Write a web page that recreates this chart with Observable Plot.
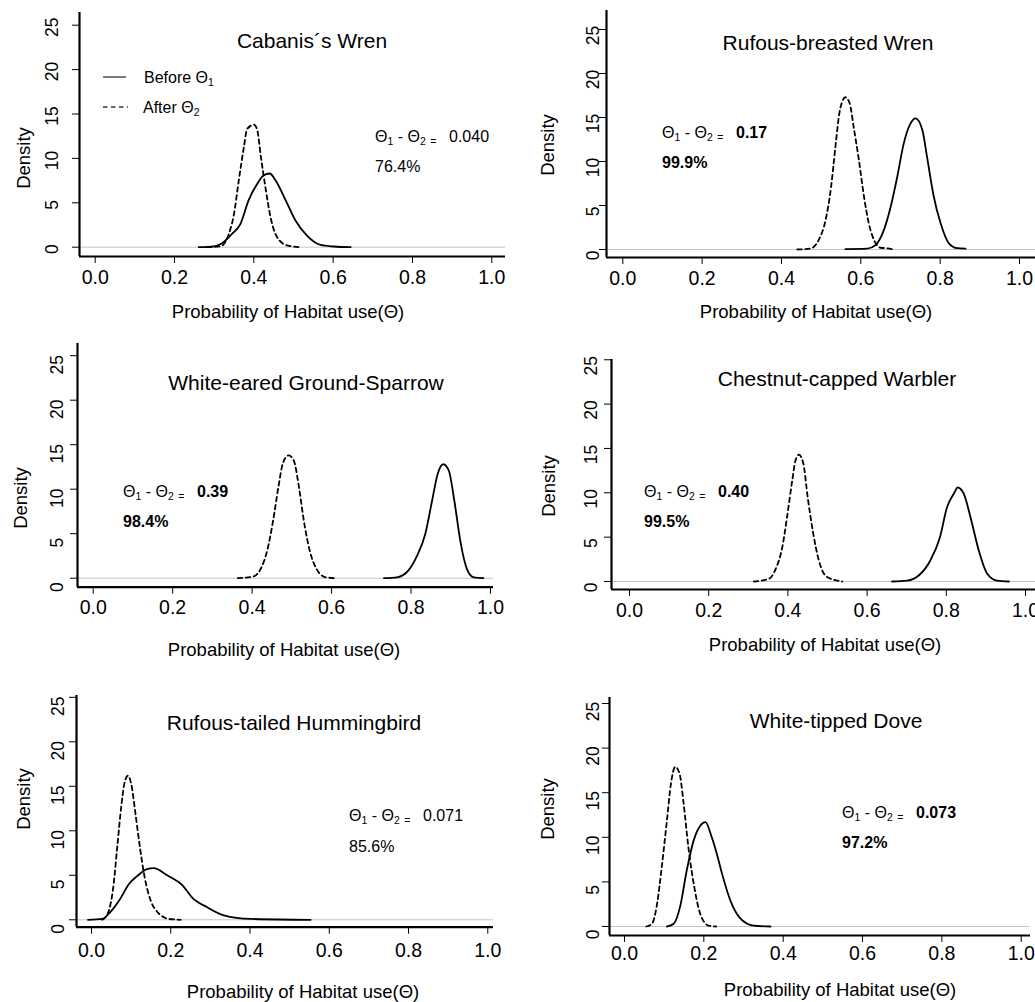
<!DOCTYPE html>
<html><head><meta charset="utf-8">
<script src="https://cdn.jsdelivr.net/npm/d3@7"></script>
<script src="https://cdn.jsdelivr.net/npm/@observablehq/plot@0.6"></script>
<style>
body{margin:0;background:#fff;font-family:"Liberation Sans",Arial,Helvetica,sans-serif;}
#root{position:relative;width:1035px;height:1002px;overflow:hidden;background:#fff;}
.abs{position:absolute;white-space:nowrap;line-height:1;color:#000;}
.title{font-size:21px;transform:translate(-50%,-50%);}
.xlab{font-size:18.5px;transform:translate(-50%,-50%);}
.ylab{font-size:18.5px;transform:translate(-50%,-50%) rotate(-90deg);}
.ann{font-size:16px;transform:translateY(-50%);}
.pre{display:inline-block;width:74px;}
sub{font-size:65%;vertical-align:-0.3em;line-height:0;}
</style></head>
<body><div id="root"></div>
<script>
// ---------- data ----------
const species = ["Cabanis´s Wren","Rufous-breasted Wren","White-eared Ground-Sparrow","Chestnut-capped Warbler","Rufous-tailed Hummingbird","White-tipped Dove"];
const diffs = ["0.040","0.17","0.39","0.40","0.071","0.073"];
const probs = ["76.4%","99.9%","98.4%","99.5%","85.6%","97.2%"];
const boldStats = [false,true,true,true,false,true];
const xTicks = [0,0.2,0.4,0.6,0.8,1.0];
const yTicks = [0,5,10,15,20,25];
const legendLabels = ["Before", "After"];

const cabanisBefore = [[.261,0],[.299,.1],[.320,.45],[.345,1.5],[.366,2.6],[.387,5.3],[.408,7.1],[.425,8.1],[.440,8.3],[.455,7.5],[.480,5.3],[.505,3.0],[.534,1.3],[.568,.26],[.602,.08],[.644,0]];
const cabanisAfter = [[.282,0],[.316,.1],[.337,1.5],[.350,3.75],[.362,7.5],[.375,11.3],[.383,13.3],[.400,13.8],[.408,13.3],[.418,10.1],[.429,6.8],[.442,3.4],[.459,1.1],[.484,.2],[.518,0]];
const rufousWrenBefore = [[.561,.05],[.616,.1],[.637,.5],[.658,2.2],[.675,4.8],[.692,8.3],[.708,12.0],[.725,14.3],[.738,14.9],[.755,13.6],[.767,10.5],[.784,6.0],[.801,3.0],[.822,.7],[.843,.15],[.864,.1]];
const rufousWrenAfter = [[.440,0],[.473,.1],[.494,1.1],[.511,3.3],[.525,7.1],[.536,11.7],[.546,15.5],[.553,16.8],[.561,17.3],[.572,16.6],[.582,13.9],[.595,10.2],[.608,6.0],[.620,3.0],[.633,1.1],[.650,.2],[.665,.15],[.682,0]];
const sparrowBefore = [[.732,0],[.765,.1],[.794,.9],[.815,2.5],[.836,5.0],[.853,8.7],[.867,11.7],[.881,12.8],[.895,12.1],[.909,8.7],[.924,4.2],[.941,1.0],[.958,.1],[.982,0]];
const sparrowAfter = [[.364,0],[.404,.2],[.421,1.0],[.438,3.1],[.453,6.5],[.466,10.2],[.478,13.0],[.492,13.8],[.505,13.2],[.518,10.2],[.530,6.5],[.545,3.1],[.564,.9],[.585,.1],[.614,0]];
const warblerBefore = [[.663,0],[.701,.1],[.731,.7],[.760,2.4],[.784,5.0],[.802,8.4],[.819,9.9],[.829,10.6],[.844,9.9],[.863,6.9],[.882,3.5],[.903,.9],[.928,.1],[.958,0]];
const warblerAfter = [[.314,0],[.352,.3],[.369,1.4],[.386,3.9],[.398,7.3],[.411,11.4],[.419,13.6],[.428,14.3],[.439,13.3],[.450,9.5],[.464,5.4],[.478,2.4],[.499,.5],[.537,0]];
const hummingBefore = [[-.009,0],[.027,.1],[.048,.9],[.073,2.4],[.094,4.0],[.115,4.9],[.140,5.7],[.157,5.8],[.191,5.0],[.229,3.9],[.254,2.5],[.292,1.4],[.334,.5],[.401,.1],[.553,0]];
const hummingAfter = [[.027,0],[.041,.7],[.055,3.7],[.065,8.2],[.075,12.7],[.083,15.3],[.092,16.2],[.100,15.3],[.111,11.9],[.122,8.2],[.134,4.8],[.149,2.2],[.170,.7],[.195,.1],[.225,0]];
const doveBefore = [[.107,0],[.124,.3],[.140,2.2],[.157,6.3],[.174,9.6],[.191,11.3],[.204,11.7],[.220,10.0],[.233,8.1],[.246,5.9],[.267,2.9],[.292,.9],[.325,.1],[.368,0]];
const doveAfter = [[.055,0],[.069,.3],[.082,2.5],[.094,6.7],[.107,11.9],[.117,16.0],[.128,17.9],[.139,17.1],[.149,13.8],[.161,8.9],[.176,4.4],[.191,1.4],[.212,.1],[.231,0]];

const beforeSeries = [cabanisBefore, rufousWrenBefore, sparrowBefore, warblerBefore, hummingBefore, doveBefore];
const afterSeries = [cabanisAfter, rufousWrenAfter, sparrowAfter, warblerAfter, hummingAfter, doveAfter];

// ---------- layout (pixel geometry of each panel) ----------
const layout = [
  {xa:79, xr:505, yt:12, ya:256, x0:94.7, x1:491.3, y0:246.7, k:8.88, xpad:7, ypad:15, ydy:2, title:[312,40], xlab:[288,312], ylab:[23.5,158], ann:[375,137,167]},
  {xa:606, xr:1035, yt:10, ya:257, x0:622.3, x1:1019, y0:249, k:8.8, xpad:7, ypad:1, ydy:6, title:[828,42], xlab:[816,312], ylab:[547.5,145], ann:[662,133,163]},
  {xa:77, xr:493, yt:343, ya:586.7, x0:92.7, x1:490, y0:577.7, k:8.9, xpad:6.3, ypad:8, ydy:9, title:[306,382], xlab:[284,650], ylab:[21,498], ann:[123,492,522]},
  {xa:611, xr:1035, yt:359, ya:589, x0:629, x1:1025, y0:581, k:8.87, xpad:7, ypad:8, ydy:6, title:[837,378], xlab:[825,645], ylab:[549,486], ann:[644,492,522]},
  {xa:76, xr:493, yt:695, ya:926.7, x0:91, x1:487.3, y0:919.3, k:8.9, xpad:9, ypad:6, ydy:9, title:[294,722], xlab:[303,992], ylab:[23.5,799], ann:[349,816,847]},
  {xa:609, xr:1030, yt:697, ya:935, x0:624, x1:1020.7, y0:926, k:8.92, xpad:4, ypad:4, ydy:8, title:[836,720], xlab:[840,990], ylab:[547.5,809], ann:[842,813,843]}
];

const root = document.getElementById("root");
const FONT = '"Liberation Sans",Arial,Helvetica,sans-serif';

function addDiv(cls, x, y, html) {
  const d = document.createElement("div");
  d.className = "abs " + cls;
  d.style.left = x + "px";
  d.style.top = y + "px";
  d.innerHTML = html;
  root.appendChild(d);
  return d;
}

function panel(i) {
  const L = layout[i];
  const mL = 70, mR = 20, mT = 10, mB = 45;
  const fw = L.xr - L.xa, fh = L.ya - L.yt;
  const xs = L.x1 - L.x0;
  const xDomain = [(L.xa - L.x0) / xs, (L.xr - L.x0) / xs];
  const yDomain = [(L.y0 - L.ya) / L.k, (L.y0 - L.yt) / L.k];
  const toObj = a => a.map(([x, y]) => ({x, y}));
  const svg = Plot.plot({
    width: fw + mL + mR, height: fh + mT + mB,
    marginLeft: mL, marginRight: mR, marginTop: mT, marginBottom: mB,
    style: `background:transparent;overflow:visible;color:#000;font-family:${FONT};max-width:none;`,
    x: {domain: xDomain},
    y: {domain: yDomain},
    marks: [
      Plot.ruleY([0], {stroke: "#c4c4c4", strokeWidth: 1}),
      Plot.line(toObj(beforeSeries[i]), {x: "x", y: "y", stroke: "#000", strokeWidth: 1.8, curve: "monotone-x"}),
      Plot.line(toObj(afterSeries[i]), {x: "x", y: "y", stroke: "#000", strokeWidth: 1.8, strokeDasharray: "4.5,3.5", curve: "monotone-x"}),
      Plot.axisX({ticks: xTicks, tickFormat: d3.format(".1f"), tickSize: 7, tickPadding: L.xpad, fontSize: 19.5, label: null, strokeWidth: 1}),
      Plot.axisY({ticks: yTicks, tickSize: 7, tickFormat: () => "", label: null, strokeWidth: 1}),
      Plot.axisY({ticks: yTicks, tickSize: 0, tickPadding: 7 + L.ypad, tickRotate: -90, dy: L.ydy, fontSize: 17.5, label: null, tickFormat: d => String(d)}),
      Plot.ruleX([xDomain[0]], {stroke: "#000", strokeWidth: 2.2}),
      Plot.ruleY([yDomain[0]], {stroke: "#000", strokeWidth: 2.2})
    ]
  });
  svg.style.position = "absolute";
  svg.style.left = (L.xa - mL) + "px";
  svg.style.top = (L.yt - mT) + "px";
  root.appendChild(svg);

  addDiv("title", L.title[0], L.title[1], species[i]);
  addDiv("xlab", L.xlab[0], L.xlab[1], "Probability of Habitat use(Θ)");
  addDiv("ylab", L.ylab[0], L.ylab[1], "Density");
  const val = boldStats[i] ? `<b>${diffs[i]}</b>` : diffs[i];
  addDiv("ann", L.ann[0], L.ann[1], `<span class="pre">Θ<sub>1</sub> - Θ<sub>2</sub> <sub>=</sub></span>${val}`);
  addDiv("ann", L.ann[0], L.ann[2], boldStats[i] ? `<b>${probs[i]}</b>` : probs[i]);
}

for (let i = 0; i < species.length; i++) panel(i);

// legend (first panel)
const lg = document.createElementNS("http://www.w3.org/2000/svg", "svg");
lg.setAttribute("width", 40); lg.setAttribute("height", 50);
lg.style.position = "absolute"; lg.style.left = "100px"; lg.style.top = "70px";
lg.innerHTML = '<line x1="3" x2="26" y1="7" y2="7" stroke="#333" stroke-width="1.3"/>' +
               '<line x1="3" x2="28" y1="37" y2="37" stroke="#333" stroke-width="1.3" stroke-dasharray="4.5,3.5"/>';
root.appendChild(lg);
addDiv("ann", 144, 78, `${legendLabels[0]} Θ<sub>1</sub>`);
addDiv("ann", 143, 108, `${legendLabels[1]} Θ<sub>2</sub>`);
</script>
</body></html>
